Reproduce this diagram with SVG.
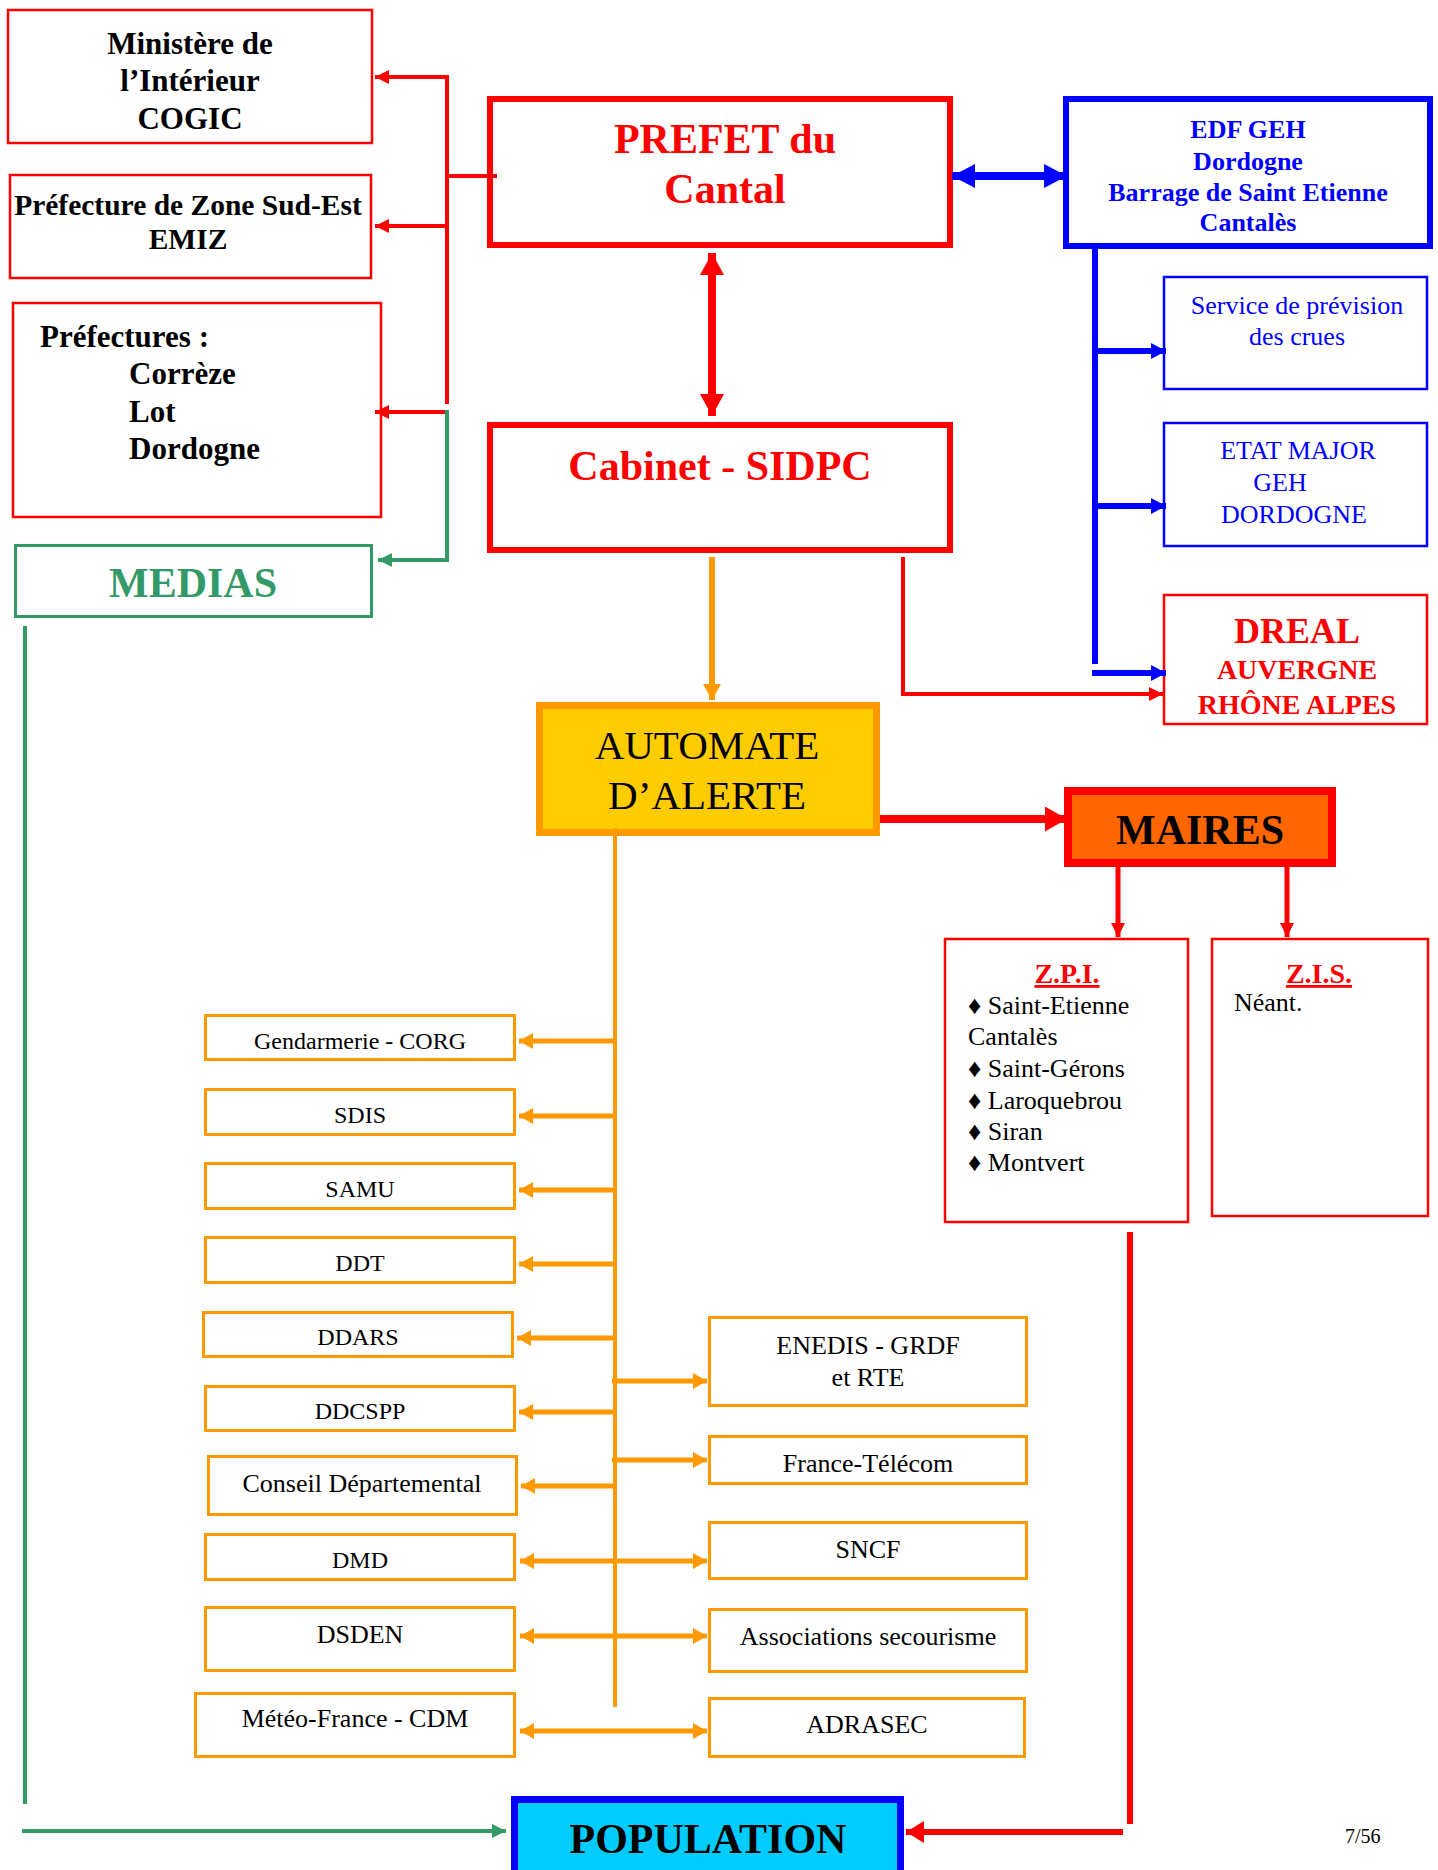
<svg xmlns="http://www.w3.org/2000/svg" width="1438" height="1870" viewBox="0 0 1438 1870">
<defs>
<marker id="mRed" markerUnits="userSpaceOnUse" markerWidth="14" markerHeight="14" refX="14" refY="7" orient="auto-start-reverse"><path d="M0,0 L14,7 L0,14 Z" fill="#FF0000"/></marker>
<marker id="mRedBig" markerUnits="userSpaceOnUse" markerWidth="22" markerHeight="24" refX="22" refY="12" orient="auto-start-reverse"><path d="M0,0 L22,12 L0,24 Z" fill="#FF0000"/></marker>
<marker id="mRedMid" markerUnits="userSpaceOnUse" markerWidth="22" markerHeight="25" refX="22" refY="12.5" orient="auto-start-reverse"><path d="M0,0 L22,12.5 L0,25 Z" fill="#FF0000"/></marker>
<marker id="mRedPop" markerUnits="userSpaceOnUse" markerWidth="18" markerHeight="22" refX="18" refY="11" orient="auto-start-reverse"><path d="M0,0 L18,11 L0,22 Z" fill="#FF0000"/></marker>
<marker id="mBlue" markerUnits="userSpaceOnUse" markerWidth="15" markerHeight="16" refX="15" refY="8" orient="auto-start-reverse"><path d="M0,0 L15,8 L0,16 Z" fill="#0000FF"/></marker>
<marker id="mBlueBig" markerUnits="userSpaceOnUse" markerWidth="23" markerHeight="24" refX="23" refY="12" orient="auto-start-reverse"><path d="M0,0 L23,12 L0,24 Z" fill="#0000FF"/></marker>
<marker id="mGreen" markerUnits="userSpaceOnUse" markerWidth="14" markerHeight="14" refX="14" refY="7" orient="auto-start-reverse"><path d="M0,0 L14,7 L0,14 Z" fill="#339966"/></marker>
<marker id="mOrange" markerUnits="userSpaceOnUse" markerWidth="14" markerHeight="16" refX="14" refY="8" orient="auto-start-reverse"><path d="M0,0 L14,8 L0,16 Z" fill="#FF9900"/></marker>
<marker id="mOrangeBig" markerUnits="userSpaceOnUse" markerWidth="16" markerHeight="18" refX="16" refY="9" orient="auto-start-reverse"><path d="M0,0 L16,9 L0,18 Z" fill="#FF9900"/></marker>
</defs>
<style>
text{font-family:"Liberation Serif","Times New Roman",serif}
.b{font-weight:bold}
.c{text-anchor:middle}
.red{fill:#FF0000}
.blue{fill:#0000FF}
.green{fill:#339966}
.blk{fill:#000000}
.boxR{fill:#FFFFFF;stroke:#FF0000;stroke-width:2.5}
.boxRT{fill:#FFFFFF;stroke:#FF0000;stroke-width:6}
.boxB{fill:#FFFFFF;stroke:#0000FF;stroke-width:2.5}
.boxBT{fill:#FFFFFF;stroke:#0000FF;stroke-width:6}
.boxO{fill:#FFFFFF;stroke:#FF9900;stroke-width:3}
.ln{fill:none}
.lr{stroke:#FF0000;stroke-width:4}
.lb{stroke:#0000FF;stroke-width:6}
.lg{stroke:#339966;stroke-width:4}
.lo{stroke:#FF9900;stroke-width:4}
.la{stroke:#FF9900;stroke-width:5}
</style>
<rect x="0" y="0" width="1438" height="1870" fill="#FFFFFF"/>

<g id="ministere">
<rect class="boxR" x="8" y="10" width="364" height="133"/>
<text class="b c blk" font-size="31" x="190" y="54">Ministère de</text>
<text class="b c blk" font-size="31" x="190" y="91">l’Intérieur</text>
<text class="b c blk" font-size="31" x="190" y="129">COGIC</text>
</g>
<g id="pref-zone">
<rect class="boxR" x="10" y="175" width="361" height="103"/>
<text class="b c blk" font-size="29.5" x="188" y="215">Préfecture de Zone Sud-Est</text>
<text class="b c blk" font-size="29.5" x="188" y="249">EMIZ</text>
</g>
<g id="prefectures">
<rect class="boxR" x="13" y="303" width="368" height="214"/>
<text class="b blk" font-size="31" x="40" y="347">Préfectures :</text>
<text class="b blk" font-size="31" x="129" y="384">Corrèze</text>
<text class="b blk" font-size="31" x="129" y="422">Lot</text>
<text class="b blk" font-size="31" x="129" y="459">Dordogne</text>
</g>
<g id="medias">
<rect x="15.5" y="545.5" width="356" height="71" fill="#FFFFFF" stroke="#339966" stroke-width="3"/>
<text class="b c green" font-size="42" x="193" y="597">MEDIAS</text>
</g>
<g id="prefet">
<rect class="boxRT" x="490" y="99" width="460" height="146"/>
<text class="b c red" font-size="42" x="725" y="153">PREFET du</text>
<text class="b c red" font-size="42" x="725" y="203">Cantal</text>
</g>
<g id="cabinet">
<rect class="boxRT" x="490" y="425" width="460" height="125"/>
<text class="b c red" font-size="42" x="720" y="480">Cabinet - SIDPC</text>
</g>
<g id="edf">
<rect class="boxBT" x="1066" y="99" width="364" height="147"/>
<text class="b c blue" font-size="26" x="1248" y="138">EDF GEH</text>
<text class="b c blue" font-size="26" x="1248" y="170">Dordogne</text>
<text class="b c blue" font-size="26" x="1248" y="201">Barrage de Saint Etienne</text>
<text class="b c blue" font-size="26" x="1248" y="231">Cantalès</text>
</g>
<g id="service-crues">
<rect class="boxB" x="1164" y="277" width="263" height="112"/>
<text class="c blue" font-size="26" x="1297" y="314">Service de prévision</text>
<text class="c blue" font-size="26" x="1297" y="345">des crues</text>
</g>
<g id="etat-major">
<rect class="boxB" x="1164" y="423" width="263" height="123"/>
<text class="c blue" font-size="26" x="1298" y="459">ETAT MAJOR</text>
<text class="c blue" font-size="26" x="1280" y="491">GEH</text>
<text class="c blue" font-size="26" x="1294" y="523">DORDOGNE</text>
</g>
<g id="dreal">
<rect class="boxR" x="1164" y="595" width="263" height="129"/>
<text class="b c red" font-size="36" x="1297" y="643">DREAL</text>
<text class="b c red" font-size="28" x="1297" y="679">AUVERGNE</text>
<text class="b c red" font-size="28" x="1297" y="714">RHÔNE ALPES</text>
</g>
<g id="automate">
<rect x="539.5" y="705.5" width="337" height="127" fill="#FFCC00" stroke="#FF9900" stroke-width="7"/>
<text class="c blk" font-size="41" x="707" y="759">AUTOMATE</text>
<text class="c blk" font-size="41" x="707" y="809">D’ALERTE</text>
</g>
<g id="maires">
<rect x="1068" y="791" width="264" height="72" fill="#FF6600" stroke="#FF0000" stroke-width="8"/>
<text class="b c blk" font-size="42" x="1200" y="844">MAIRES</text>
</g>
<g id="zpi">
<rect class="boxR" x="945" y="939" width="243" height="283"/>
<text class="b c red" font-size="28" x="1067" y="983" text-decoration="underline">Z.P.I.</text>
<text class="blk" font-size="26" x="968" y="1014">♦ Saint-Etienne</text>
<text class="blk" font-size="26" x="968" y="1045">Cantalès</text>
<text class="blk" font-size="26" x="968" y="1077">♦ Saint-Gérons</text>
<text class="blk" font-size="26" x="968" y="1109">♦ Laroquebrou</text>
<text class="blk" font-size="26" x="968" y="1140">♦ Siran</text>
<text class="blk" font-size="26" x="968" y="1171">♦ Montvert</text>
</g>
<g id="zis">
<rect class="boxR" x="1212" y="939" width="216" height="277"/>
<text class="b c red" font-size="28" x="1319" y="983" text-decoration="underline">Z.I.S.</text>
<text class="blk" font-size="26" x="1234" y="1011">Néant.</text>
</g>

<g id="gendarmerie"><rect class="boxO" x="205.5" y="1015.5" width="309" height="44"/><text class="c blk" font-size="24" x="360" y="1049">Gendarmerie - CORG</text></g>
<g id="sdis"><rect class="boxO" x="205.5" y="1089.5" width="309" height="45"/><text class="c blk" font-size="24" x="360" y="1123">SDIS</text></g>
<g id="samu"><rect class="boxO" x="205.5" y="1163.5" width="309" height="45"/><text class="c blk" font-size="24" x="360" y="1197">SAMU</text></g>
<g id="ddt"><rect class="boxO" x="205.5" y="1237.5" width="309" height="45"/><text class="c blk" font-size="24" x="360" y="1271">DDT</text></g>
<g id="ddars"><rect class="boxO" x="203.5" y="1312.5" width="309" height="44"/><text class="c blk" font-size="24" x="358" y="1345">DDARS</text></g>
<g id="ddcspp"><rect class="boxO" x="205.5" y="1386.5" width="309" height="44"/><text class="c blk" font-size="24" x="360" y="1419">DDCSPP</text></g>
<g id="conseil"><rect class="boxO" x="208.5" y="1456.5" width="308" height="58"/><text class="c blk" font-size="26" x="362" y="1492">Conseil Départemental</text></g>
<g id="dmd"><rect class="boxO" x="205.5" y="1534.5" width="309" height="45"/><text class="c blk" font-size="24" x="360" y="1568">DMD</text></g>
<g id="dsden"><rect class="boxO" x="205.5" y="1607.5" width="309" height="63"/><text class="c blk" font-size="26" x="360" y="1643">DSDEN</text></g>
<g id="meteo"><rect class="boxO" x="195.5" y="1693.5" width="319" height="63"/><text class="c blk" font-size="26" x="355" y="1727">Météo-France - CDM</text></g>

<g id="enedis"><rect class="boxO" x="709.5" y="1317.5" width="317" height="88"/><text class="c blk" font-size="26" x="868" y="1354">ENEDIS - GRDF</text><text class="c blk" font-size="26" x="868" y="1386">et RTE</text></g>
<g id="france-telecom"><rect class="boxO" x="709.5" y="1436.5" width="317" height="47"/><text class="c blk" font-size="26" x="868" y="1472">France-Télécom</text></g>
<g id="sncf"><rect class="boxO" x="709.5" y="1522.5" width="317" height="56"/><text class="c blk" font-size="26" x="868" y="1558">SNCF</text></g>
<g id="associations"><rect class="boxO" x="709.5" y="1609.5" width="317" height="62"/><text class="c blk" font-size="26" x="868" y="1645">Associations secourisme</text></g>
<g id="adrasec"><rect class="boxO" x="709.5" y="1698.5" width="315" height="58"/><text class="c blk" font-size="26" x="867" y="1733">ADRASEC</text></g>

<g id="population">
<rect x="514.5" y="1799.5" width="386" height="100" fill="#00CCFF" stroke="#0000FF" stroke-width="7"/>
<text class="b c blk" font-size="42" x="708" y="1853">POPULATION</text>
</g>

<g id="page-number"><text class="blk" font-size="20" x="1345" y="1843">7/56</text></g>

<g id="connectors" class="ln">
<path class="ln lr" d="M447,76 V404"/>
<path class="ln lr" d="M445,176 H497"/>
<path class="ln lr" d="M449,77 H375" marker-end="url(#mRed)"/>
<path class="ln lr" d="M449,226 H375" marker-end="url(#mRed)"/>
<path class="ln lr" d="M449,412 H375" marker-end="url(#mRed)"/>
<path class="ln lg" d="M447,410 V560 H378" marker-end="url(#mGreen)"/>
<path class="ln" d="M712,253 V416" stroke="#FF0000" stroke-width="8" marker-start="url(#mRedBig)" marker-end="url(#mRedBig)"/>
<path class="ln" d="M952,176 H1067" stroke="#0000FF" stroke-width="8" marker-start="url(#mBlueBig)" marker-end="url(#mBlueBig)"/>
<path class="ln" d="M1095,249 V664" stroke="#0000FF" stroke-width="6"/>
<path class="ln lb" d="M1093,351 H1166" marker-end="url(#mBlue)"/>
<path class="ln lb" d="M1093,506 H1166" marker-end="url(#mBlue)"/>
<path class="ln lb" d="M1092,673 H1166" marker-end="url(#mBlue)"/>
<path class="ln lr" d="M903,557 V694 H1163" marker-end="url(#mRed)"/>
<path class="ln" d="M712,557 V700" stroke="#FF9900" stroke-width="6" marker-end="url(#mOrangeBig)"/>
<path class="ln" d="M880,819 H1067" stroke="#FF0000" stroke-width="8" marker-end="url(#mRedMid)"/>
<path class="ln" d="M1118,867 V937" stroke="#FF0000" stroke-width="5" marker-end="url(#mRed)"/>
<path class="ln" d="M1287,867 V937" stroke="#FF0000" stroke-width="5" marker-end="url(#mRed)"/>
<path class="ln lo" d="M615,828 V1707"/>
<path class="ln la" d="M617,1041 H519" marker-end="url(#mOrange)"/>
<path class="ln la" d="M617,1116 H519" marker-end="url(#mOrange)"/>
<path class="ln la" d="M617,1190 H519" marker-end="url(#mOrange)"/>
<path class="ln la" d="M617,1264 H519" marker-end="url(#mOrange)"/>
<path class="ln la" d="M617,1338 H517" marker-end="url(#mOrange)"/>
<path class="ln la" d="M617,1412 H519" marker-end="url(#mOrange)"/>
<path class="ln la" d="M617,1486 H521" marker-end="url(#mOrange)"/>
<path class="ln la" d="M612,1381 H707" marker-end="url(#mOrange)"/>
<path class="ln la" d="M612,1460 H707" marker-end="url(#mOrange)"/>
<path class="ln la" d="M520,1561 H707" marker-start="url(#mOrange)" marker-end="url(#mOrange)"/>
<path class="ln la" d="M520,1636 H707" marker-start="url(#mOrange)" marker-end="url(#mOrange)"/>
<path class="ln la" d="M520,1731 H707" marker-start="url(#mOrange)" marker-end="url(#mOrange)"/>
<path class="ln lg" d="M25,626 V1804"/>
<path class="ln lg" d="M22,1831 H506" marker-end="url(#mGreen)"/>
<path class="ln" d="M1130,1232 V1824" stroke="#FF0000" stroke-width="6"/>
<path class="ln" d="M1123,1832 H906" stroke="#FF0000" stroke-width="6" marker-end="url(#mRedPop)"/>
</g>
</svg>
